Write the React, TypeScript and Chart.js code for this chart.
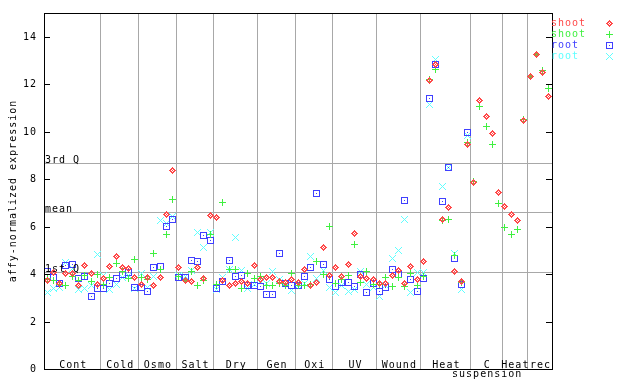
import React, { useEffect, useRef } from 'react';
import { Chart, registerables } from 'chart.js';

Chart.register(...registerables);

// ---- data ----
const groupNames = ['Cont', 'Cold', 'Osmo', 'Salt', 'Dry', 'Gen', 'Oxi', 'UV', 'Wound', 'Heat', 'C\nsuspension', 'Heat', 'rec'];
const groupSizes = [9, 6, 6, 6, 7, 6, 6, 7, 7, 8, 5, 4, 4];

const shootRed = [
  3.74, 4.06, 3.62, 4.04, 4.03, 3.53, 4.38, 4.04, 3.57,
  3.83, 4.32, 4.74, 4.27, 4.24, 3.87,
  3.54, 3.85, 3.53, 3.86, 6.5, 8.38,
  4.26, 3.75, 3.68, 4.26, 3.8, 6.48,
  6.4, 3.75, 3.53, 3.61, 3.7, 3.6, 4.37,
  3.78, 3.87, 3.87, 3.7, 3.65, 3.76,
  3.66, 4.2, 3.5, 3.66, 5.13, 3.93,
  4.26, 3.91, 4.42, 5.72, 3.9, 3.82, 3.78,
  3.61, 3.61, 3.95, 4.15, 3.61, 4.33, 3.78,
  4.54, 12.17, 12.81, 6.32, 6.82, 4.12, 3.7, 9.44,
  7.86, 11.3, 10.62, 9.94, 7.45,
  6.86, 6.53, 6.27, 10.49,
  12.31, 13.26, 12.49, 11.5,
];
const shootGreen = [
  3.8, 3.75, 3.55, 3.53, 3.9, 3.75, 3.95, 3.68, 3.99,
  3.56, 3.86, 4.43, 4.12, 3.83, 4.63,
  3.85, 3.77, 4.85, 4.2, 5.67, 7.16,
  3.9, 3.74, 4.1, 3.53, 3.75, 5.65,
  3.54, 7.0, 4.18, 4.2, 3.4, 4.04, 3.82,
  3.91, 3.5, 3.5, 3.61, 3.5, 4.04,
  3.53, 3.53, 3.57, 4.54, 4.0, 6.02,
  3.61, 3.76, 3.95, 5.26, 3.66, 4.12, 3.57,
  3.55, 3.87, 3.49, 3.87, 3.49, 4.04, 3.53,
  3.91, 12.2, 12.6, 6.26, 6.3, 4.8, 3.65, 9.56,
  7.88, 11.08, 10.2, 9.48, 6.96,
  5.98, 5.68, 5.86, 10.5,
  12.31, 13.26, 12.56, 11.8,
];
const rootBlue = [
  4.11, 3.85, 3.6, 4.38, 4.41, 3.83, 3.88, 3.07, 3.38,
  3.38, 3.62, 3.83, 3.99, 4.06, 3.42,
  3.42, 3.28, 4.27, 4.33, 6.0, 6.32,
  3.87, 3.87, 4.56, 4.51, 5.64, 5.43,
  3.4, 3.67, 4.56, 3.91, 3.95, 3.53, 3.53,
  3.49, 3.15, 3.15, 4.88, 3.61, 3.53,
  3.53, 3.91, 4.29, 7.41, 4.41, 3.78,
  3.49, 3.66, 3.66, 3.49, 4.0, 3.23, 3.61,
  3.27, 3.45, 4.2, 4.0, 7.12, 3.78, 3.27,
  3.8, 11.38, 12.81, 7.07, 8.5, 4.67, 3.57, 9.97,
  null, null, null, null, null,
  null, null, null, null,
  null, null, null, null,
];
const rootCyan = [
  3.24, 3.39, 3.42, 4.47, 4.25, 3.33, 3.41, 3.52, 4.82,
  3.95, 3.33, 3.54, 3.84, 3.94, 3.4,
  4.02, 3.43, 3.91, 6.24, 6.14, 6.41,
  3.95, 3.9, 4.13, 5.77, 5.13, 5.77,
  3.33, 3.87, 4.18, 5.56, 4.16, 3.4, 3.57,
  3.7, 3.6, 4.12, 3.78, 3.66, 3.32,
  3.53, 3.6, 4.75, 3.82, 4.16, 3.45,
  3.23, 3.53, 3.27, 3.36, 4.12, 3.57, 3.45,
  3.07, 3.53, 4.67, 5.0, 6.32, 3.23, 4.08,
  4.08, 11.13, 13.04, 7.71, 8.5, 4.88, 3.36, 9.84,
  null, null, null, null, null,
  null, null, null, null,
  null, null, null, null,
];

const seriesLabels = ['shoot', 'shoot', 'root', 'root'];
const yTicks = [0, 2, 4, 6, 8, 10, 12, 14];
const refLineLabels = ['1st Q', 'mean', '3rd Q'];
const refLineValues = [4.08, 6.61, 8.68];
const yTitle = 'affy-normalized expression';

// ---- styles ----
const COLORS = ['rgb(255,72,72)', 'rgb(64,240,64)', 'rgb(64,64,255)', 'rgb(96,255,255)'];
const PATTERNS: string[][] = [
  ['...X...', '..XXX..', '.XX.XX.', 'XX.X.XX', '.XX.XX.', '..XXX..', '...X...'],
  ['...X...', '...X...', '...X...', 'XXXXXXX', '...X...', '...X...', '...X...'],
  ['XXXXXXX', 'X.....X', 'X.....X', 'X..X..X', 'X.....X', 'X.....X', 'XXXXXXX'],
  ['X.....X', '.X...X.', '..X.X..', '...X...', '..X.X..', '.X...X.', 'X.....X'],
];
const FONT = '10px "DejaVu Sans Mono", monospace';
const GRAY = '#a8a8a8';

function paintPattern(g: CanvasRenderingContext2D, pattern: string[], color: string, ox: number, oy: number) {
  g.fillStyle = color;
  pattern.forEach((row, yy) => {
    for (let xx = 0; xx < row.length; xx++) if (row[xx] === 'X') g.fillRect(ox + xx, oy + yy, 1, 1);
  });
}

function makeMarker(pattern: string[], color: string) {
  const c = document.createElement('canvas');
  c.width = pattern[0].length;
  c.height = pattern.length;
  const g = c.getContext('2d')!;
  paintPattern(g, pattern, color, 0, 0);
  return c;
}

function setText(ctx: CanvasRenderingContext2D) {
  ctx.font = FONT;
  try { (ctx as any).letterSpacing = '1px'; } catch (e) { /* ignore */ }
}

export default function App() {
  const ref = useRef<HTMLCanvasElement | null>(null);

  useEffect(() => {
    if (!ref.current) return;
    const markers = PATTERNS.map((p, i) => makeMarker(p, COLORS[i]));
    const all = [shootRed, shootGreen, rootBlue, rootCyan];
    const total = groupSizes.reduce((a, b) => a + b, 0);

    const decor = {
      id: 'decor',
      beforeDatasetsDraw(chart: any) {
        const { ctx, chartArea, scales } = chart;
        const { left, right, top, bottom } = chartArea;
        const x = scales.x, y = scales.y;
        ctx.save();
        ctx.strokeStyle = GRAY;
        ctx.lineWidth = 1;
        let cum = 0;
        for (let g = 0; g < groupSizes.length - 1; g++) {
          cum += groupSizes[g];
          const px = Math.round(x.getPixelForValue(cum - 0.5)) + 0.5;
          ctx.beginPath(); ctx.moveTo(px, top); ctx.lineTo(px, bottom); ctx.stroke();
        }
        refLineValues.forEach((v) => {
          const py = Math.round(y.getPixelForValue(v)) + 0.5;
          ctx.beginPath(); ctx.moveTo(left, py); ctx.lineTo(right, py); ctx.stroke();
        });
        ctx.restore();
        ctx.imageSmoothingEnabled = false;
      },
      afterDatasetsDraw(chart: any) {
        const { ctx, chartArea, scales } = chart;
        const { left, right, top, bottom } = chartArea;
        const x = scales.x, y = scales.y;
        ctx.imageSmoothingEnabled = true;
        ctx.save();
        // frame
        ctx.strokeStyle = '#000';
        ctx.lineWidth = 1;
        ctx.strokeRect(left + 0.5, top + 0.5, right - left, bottom - top);
        // ticks
        setText(ctx);
        ctx.fillStyle = '#000';
        ctx.textAlign = 'right';
        ctx.textBaseline = 'middle';
        yTicks.forEach((t) => {
          const py = Math.round(y.getPixelForValue(t)) + 0.5;
          ctx.beginPath();
          ctx.moveTo(left, py); ctx.lineTo(left + 6, py);
          ctx.moveTo(right - 6, py); ctx.lineTo(right, py);
          ctx.stroke();
          ctx.fillText(String(t), left - 7, py);
        });
        // reference line labels
        ctx.textAlign = 'left';
        ctx.textBaseline = 'alphabetic';
        refLineLabels.forEach((lab, i) => {
          const py = Math.round(y.getPixelForValue(refLineValues[i]));
          ctx.fillText(lab, left + 1, py);
        });
        // group labels
        ctx.textAlign = 'center';
        let start = 0;
        groupSizes.forEach((n, g) => {
          const cx = (x.getPixelForValue(start - 0.5) + x.getPixelForValue(start + n - 0.5)) / 2;
          const lines = groupNames[g].split('\n');
          lines.forEach((ln, li) => ctx.fillText(ln, cx + 1, bottom - 1 + li * 9));
          start += n;
        });
        // y title
        ctx.save();
        ctx.translate(13, (top + bottom) / 2);
        ctx.rotate(-Math.PI / 2);
        ctx.textAlign = 'center';
        ctx.textBaseline = 'middle';
        ctx.fillText(yTitle, 0, 0);
        ctx.restore();
        // legend
        ctx.textAlign = 'left';
        ctx.textBaseline = 'middle';
        seriesLabels.forEach((lab, i) => {
          const cy = top + 10 + i * 11;
          ctx.fillStyle = COLORS[i];
          ctx.fillText(lab, right - 1, cy);
          paintPattern(ctx, PATTERNS[i], COLORS[i], 606, Math.round(cy) - 3);
        });
        ctx.restore();
      },
    };

    const chart = new Chart(ref.current, {
      type: 'scatter',
      data: {
        datasets: all.map((arr, i) => ({
          label: seriesLabels[i],
          data: arr.map((v, k) => ({ x: k, y: v })).filter((p) => p.y !== null) as any,
          pointStyle: markers[i] as any,
          pointRadius: 3.5,
          borderColor: COLORS[i],
          backgroundColor: COLORS[i],
        })),
      },
      options: {
        responsive: false,
        animation: false,
        events: [],
        layout: { padding: { left: 44, top: 13, right: 88, bottom: 15 } },
        plugins: { legend: { display: false }, tooltip: { enabled: false }, title: { display: false } },
        scales: {
          x: { type: 'linear', display: false, min: -0.5, max: total - 0.5 },
          y: { type: 'linear', display: false, min: 0, max: 15 },
        },
      },
      plugins: [decor],
    });
    return () => chart.destroy();
  }, []);

  return (
    <div style={{ position: 'fixed', left: 0, top: 0, width: 640, height: 384, background: '#fff' }}>
      <canvas ref={ref} width={640} height={384} style={{ display: 'block' }} />
    </div>
  );
}
